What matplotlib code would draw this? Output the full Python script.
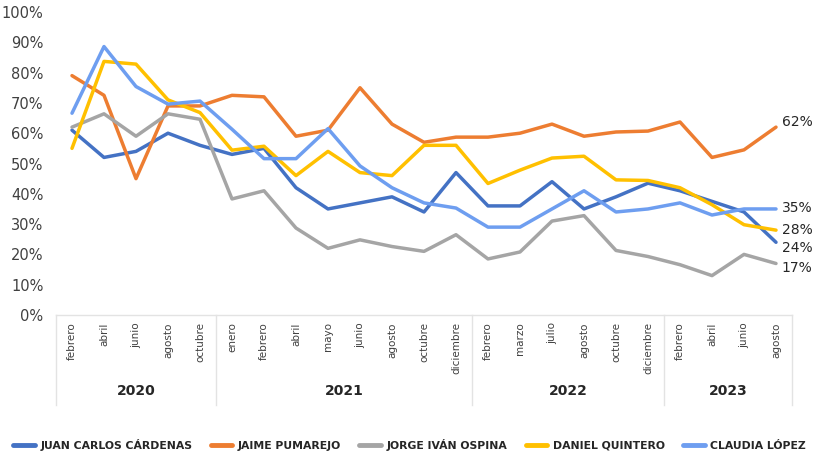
import numpy as np
import matplotlib.pyplot as plt
from matplotlib.lines import Line2D
import matplotlib.transforms as mtransforms

# categorias (mes, año)
meses = ['febrero', 'abril', 'junio', 'agosto', 'octubre',
         'enero', 'febrero', 'abril', 'mayo', 'junio', 'agosto', 'octubre', 'diciembre',
         'febrero', 'marzo', 'julio', 'agosto', 'octubre', 'diciembre',
         'febrero', 'abril', 'junio', 'agosto']
anios = ['2020', '2021', '2022', '2023']
meses_por_anio = [5, 8, 6, 4]

# aprobacion (%)
cardenas = [61, 52, 54, 60, 56, 53, 55, 42, 35, 37, 39, 34, 47, 36, 36, 44, 35, 39, 43.5, 41, 37.5, 34, 24]
pumarejo = [79, 72.5, 45, 69, 69, 72.5, 72, 59, 61, 75, 63, 57, 58.7, 58.7, 60, 63, 59, 60.4, 60.7, 63.7, 52, 54.5, 62]
ospina = [62, 66.4, 59, 66.4, 64.6, 38.3, 41, 28.7, 22, 24.8, 22.6, 21, 26.5, 18.5, 20.8, 31, 32.8, 21.3, 19.3, 16.6, 13, 20, 17]
quintero = [55, 83.7, 82.8, 71, 66.8, 54.4, 55.7, 46, 54, 47, 46, 56, 56, 43.4, 47.8, 51.8, 52.4, 44.6, 44.4, 42, 36.4, 29.8, 28]
lopez = [66.6, 88.6, 75.4, 69.6, 70.6, 61.3, 51.6, 51.6, 61.5, 49.2, 42, 37, 35.3, 29, 29, 35, 41, 34, 35, 37, 33, 35, 35]

nombres = ['JUAN CARLOS CÁRDENAS', 'JAIME PUMAREJO', 'JORGE IVÁN OSPINA', 'DANIEL QUINTERO', 'CLAUDIA LÓPEZ']
series = [cardenas, pumarejo, ospina, quintero, lopez]
colores = ['#4472C4', '#ED7D31', '#A5A5A5', '#FFC000', '#6E9EF0']
# desplazamiento vertical (pt) de las etiquetas finales para que no se pisen
desp = [-4, 4, -3, 0, 1]

fig = plt.figure(figsize=(8.19, 4.54), dpi=100)
ax = fig.add_axes([56/819, 1-315/454, (792-56)/819, 303/454])

x = np.arange(len(meses))
for s, c in zip(series, colores):
    ax.plot(x, np.array(s)/100, color=c, lw=2.5, solid_capstyle='round', solid_joinstyle='round')

for s, c, d in zip(series, colores, desp):
    ax.annotate(f'{s[-1]:.0f}%', (x[-1], s[-1]/100), xytext=(4, d), textcoords='offset points',
                ha='left', va='center', fontsize=10, color='#262626')

ax.set_xlim(-0.5, len(meses)-0.5)
ax.set_ylim(0, 1)
ax.set_yticks(np.arange(0, 1.01, 0.1))
ax.set_yticklabels([f'{int(v*100)}%' for v in np.arange(0, 1.01, 0.1)], fontsize=10.5, color='#404040')
ax.tick_params(axis='y', length=0, pad=9)
ax.set_xticks([])
for sp in ['left', 'right', 'top']:
    ax.spines[sp].set_visible(False)
ax.spines['bottom'].set_color('#E3E3E3')
ax.spines['bottom'].set_linewidth(1)

trans = mtransforms.blended_transform_factory(ax.transData, ax.transAxes)
for i, m in enumerate(meses):
    ax.text(i, -0.024, m, rotation=90, ha='center', va='top', fontsize=7.5, color='#404040', transform=trans)

# separadores y años
inicio = -0.5
ax.plot([inicio, inicio], [0, -0.297], color='#E3E3E3', lw=1, transform=trans, clip_on=False)
for a, n in zip(anios, meses_por_anio):
    fin = inicio + n
    ax.plot([fin, fin], [0, -0.297], color='#E3E3E3', lw=1, transform=trans, clip_on=False)
    ax.text((inicio + fin)/2, -0.25, a, ha='center', va='center', fontsize=10, fontweight='bold',
            color='#262626', transform=trans)
    inicio = fin

handles = [Line2D([], [], color=c, lw=3.5, solid_capstyle='round') for c in colores]
fig.legend(handles, nombres, loc='center', bbox_to_anchor=(0.5, 1-445/454), ncol=5, frameon=False,
           prop={'size': 7.8, 'weight': 'bold'}, handlelength=2.0, handletextpad=0.5, columnspacing=1.7,
           labelcolor='#262626')

fig.savefig('out.png', dpi=100)
